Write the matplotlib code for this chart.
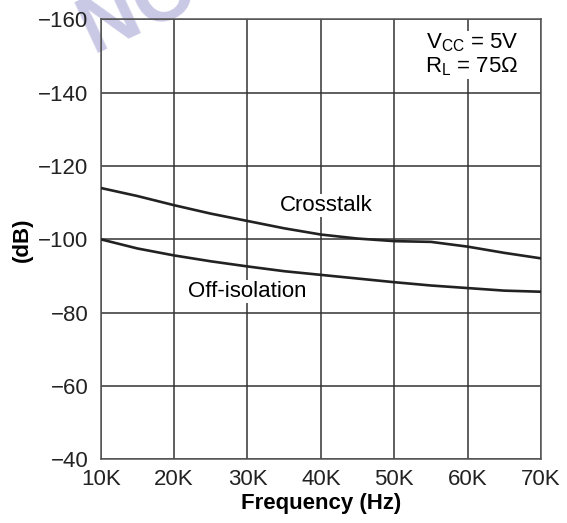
import matplotlib
matplotlib.use("Agg")
import matplotlib.pyplot as plt
from matplotlib import rcParams
rcParams['font.family'] = ['Liberation Sans', 'DejaVu Sans']
rcParams['mathtext.fontset'] = 'custom'
rcParams['mathtext.rm'] = 'Liberation Sans'

# data
freq_k = [10, 15, 20, 25, 30, 35, 40, 45, 50, 55, 60, 65, 70]
crosstalk_db = [-114, -111.8, -109.3, -107, -105, -103, -101.3, -100.2, -99.5, -99.3, -98, -96.3, -94.8]
off_iso_db = [-100, -97.5, -95.6, -94, -92.6, -91.3, -90.3, -89.3, -88.3, -87.4, -86.7, -86, -85.7]
x_ticks = [10, 20, 30, 40, 50, 60, 70]
x_ticklabels = ["10K", "20K", "30K", "40K", "50K", "60K", "70K"]
y_ticks = [-160, -140, -120, -100, -80, -60, -40]
y_ticklabels = ["\u2212160", "\u2212140", "\u2212120", "\u2212100", "\u221280", "\u221260", "\u221240"]

fig = plt.figure(figsize=(5.67, 5.23), dpi=100)
ax = fig.add_axes([100.7 / 567, 1 - 459.3 / 523, 440.3 / 567, 440 / 523])

# watermark, mostly off the top edge, behind everything
fig.text(94 / 567, 1 - 55 / 523, "NOT RECOMMENDED", fontsize=58, color="#c9c9e6", rotation=25,
         ha="left", va="baseline", rotation_mode="anchor", fontweight="bold", zorder=-1)
ax.set_facecolor("none")

ax.plot(freq_k, crosstalk_db, color="#222222", lw=1.9, zorder=3)
ax.plot(freq_k, off_iso_db, color="#222222", lw=1.9, zorder=3)

ax.set_xlim(10, 70)
ax.set_ylim(-40, -160)
ax.set_xticks(x_ticks)
ax.set_xticklabels(x_ticklabels)
ax.set_yticks(y_ticks)
ax.set_yticklabels(y_ticklabels)
ax.tick_params(length=0, labelsize=16, colors="#222222")
ax.tick_params(axis="y", pad=9)
ax.tick_params(axis="x", pad=7)
ax.grid(True, color="#333333", lw=1.1, zorder=1)
ax.set_axisbelow(True)
for s in ax.spines.values():
    s.set_color("#555555")
    s.set_linewidth(1.1)

ax.set_xlabel("Frequency (Hz)", fontsize=16, fontweight="bold", labelpad=2)
ax.set_ylabel("(dB)", fontsize=16, fontweight="bold", labelpad=4)

box = dict(facecolor="white", edgecolor="none", pad=1)
ax.text(40.7, -109.2, "Crosstalk", fontsize=16, ha="center", va="center", bbox=box, zorder=2)
ax.text(30.0, -85.8, "Off-isolation", fontsize=16, ha="center", va="center", bbox=box, zorder=2)
ax.text(60.6, -150.3, "V$_{\\mathrm{CC}}$ = 5V\nR$_{\\mathrm{L}}$ = 75\u03a9", fontsize=16,
        ha="center", va="center", linespacing=1.05, bbox=box, zorder=2)

fig.savefig("out.png", dpi=100)
